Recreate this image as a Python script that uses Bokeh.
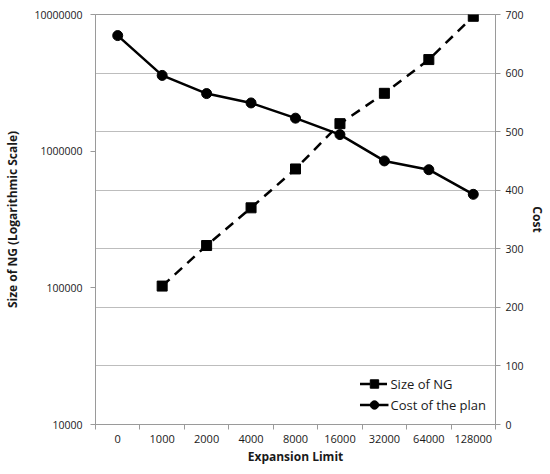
from bokeh.plotting import figure
from bokeh.models import (Range1d, LinearAxis, LinearScale, FixedTicker, Grid,
                          NumeralTickFormatter, Legend, LegendItem)
from bokeh.embed import file_html
from bokeh.resources import INLINE

limits = ["0", "1000", "2000", "4000", "8000", "16000", "32000", "64000", "128000"]
ng_size = [None, 103000, 204000, 385000, 741000, 1590000, 2650000, 4680000, 9700000]
cost = [664, 596, 565, 549, 523, 495, 450, 435, 393]
size_ticks = [10000, 100000, 1000000, 10000000]
cost_ticks = [0, 100, 200, 300, 400, 500, 600, 700]

FONT = "Open Sans"
GRID = "#bdbdbd"
AXIS = "#9a9a9a"
TXT = "#1a1a1a"

xs = [i + 0.5 for i in range(len(limits))]
ng_x = [x for x, v in zip(xs, ng_size) if v is not None]
ng_y = [v for v in ng_size if v is not None]

p = figure(width=550, height=474, y_axis_type="log",
           x_range=Range1d(0, len(limits)), y_range=Range1d(size_ticks[0], size_ticks[-1]),
           output_backend="svg", toolbar_location=None,
           min_border_left=95, min_border_right=55, min_border_top=14, min_border_bottom=50)
p.extra_y_ranges = {"cost": Range1d(cost_ticks[0], cost_ticks[-1])}
p.extra_y_scales = {"cost": LinearScale()}
p.outline_line_color = AXIS
p.xgrid.visible = False
p.ygrid.visible = False

# right axis (cost)
ax_r = LinearAxis(y_range_name="cost", ticker=FixedTicker(ticks=cost_ticks, minor_ticks=[]),
                  axis_label="Cost")
p.add_layout(ax_r, "right")

p.add_layout(Grid(dimension=1, ticker=FixedTicker(ticks=cost_ticks, minor_ticks=[]),
                  y_range_name="cost", grid_line_color=GRID, grid_line_width=1))

# left axis (log)
ax_l = p.yaxis[0]
ax_l.ticker = FixedTicker(ticks=size_ticks, minor_ticks=[])
ax_l.formatter = NumeralTickFormatter(format="0")
ax_l.axis_label = "Size of NG (Logarithmic Scale)"

# x axis
ax_x = p.xaxis[0]
ax_x.ticker = FixedTicker(ticks=xs, minor_ticks=list(range(len(limits) + 1)))
ax_x.major_label_overrides = {x: lab for x, lab in zip(xs, limits)}
ax_x.axis_label = "Expansion Limit"
ax_x.major_tick_line_color = None
ax_x.minor_tick_line_color = AXIS
ax_x.minor_tick_in = 0
ax_x.minor_tick_out = 5

for ax in (ax_l, ax_r, ax_x):
    ax.axis_line_color = AXIS
    ax.major_label_text_font = FONT
    ax.major_label_text_font_size = "10.5px"
    ax.major_label_text_color = TXT
    ax.axis_label_text_font = FONT
    ax.axis_label_text_font_size = "12px"
    ax.axis_label_text_font_style = "bold"
    ax.axis_label_text_color = TXT
ax_x.major_label_text_font_size = "11px"
for ax in (ax_l, ax_r):
    ax.major_tick_line_color = AXIS
    ax.major_tick_in = 0
    ax.major_tick_out = 5
    ax.minor_tick_line_color = None
ax_x.major_label_standoff = 4
ax_x.axis_label_standoff = 2
ax_l.major_label_standoff = 8
ax_l.axis_label_standoff = 10
ax_r.major_label_standoff = 5
ax_r.axis_label_standoff = 2

l1 = p.line(ng_x, ng_y, line_color="black", line_width=2.5, line_dash="10 7")
s1 = p.scatter(ng_x, ng_y, marker="square", size=10, color="black")
l2 = p.line(xs, cost, y_range_name="cost", line_color="black", line_width=2.5)
s2 = p.scatter(xs, cost, y_range_name="cost", marker="circle", size=10, color="black")

legend = Legend(items=[LegendItem(label="Size of NG", renderers=[l1, s1]),
                       LegendItem(label="Cost of the plan", renderers=[l2, s2])],
                location="bottom_right")
legend.border_line_color = None
legend.background_fill_alpha = 0
legend.label_text_font = FONT
legend.label_text_font_size = "13px"
legend.label_text_color = TXT
legend.glyph_width = 29
legend.glyph_height = 21
legend.label_height = 21
legend.spacing = 0
legend.padding = 2
legend.margin = 9
legend.label_standoff = 2
p.add_layout(legend)

open("out.html", "w").write(file_html(p, INLINE))
